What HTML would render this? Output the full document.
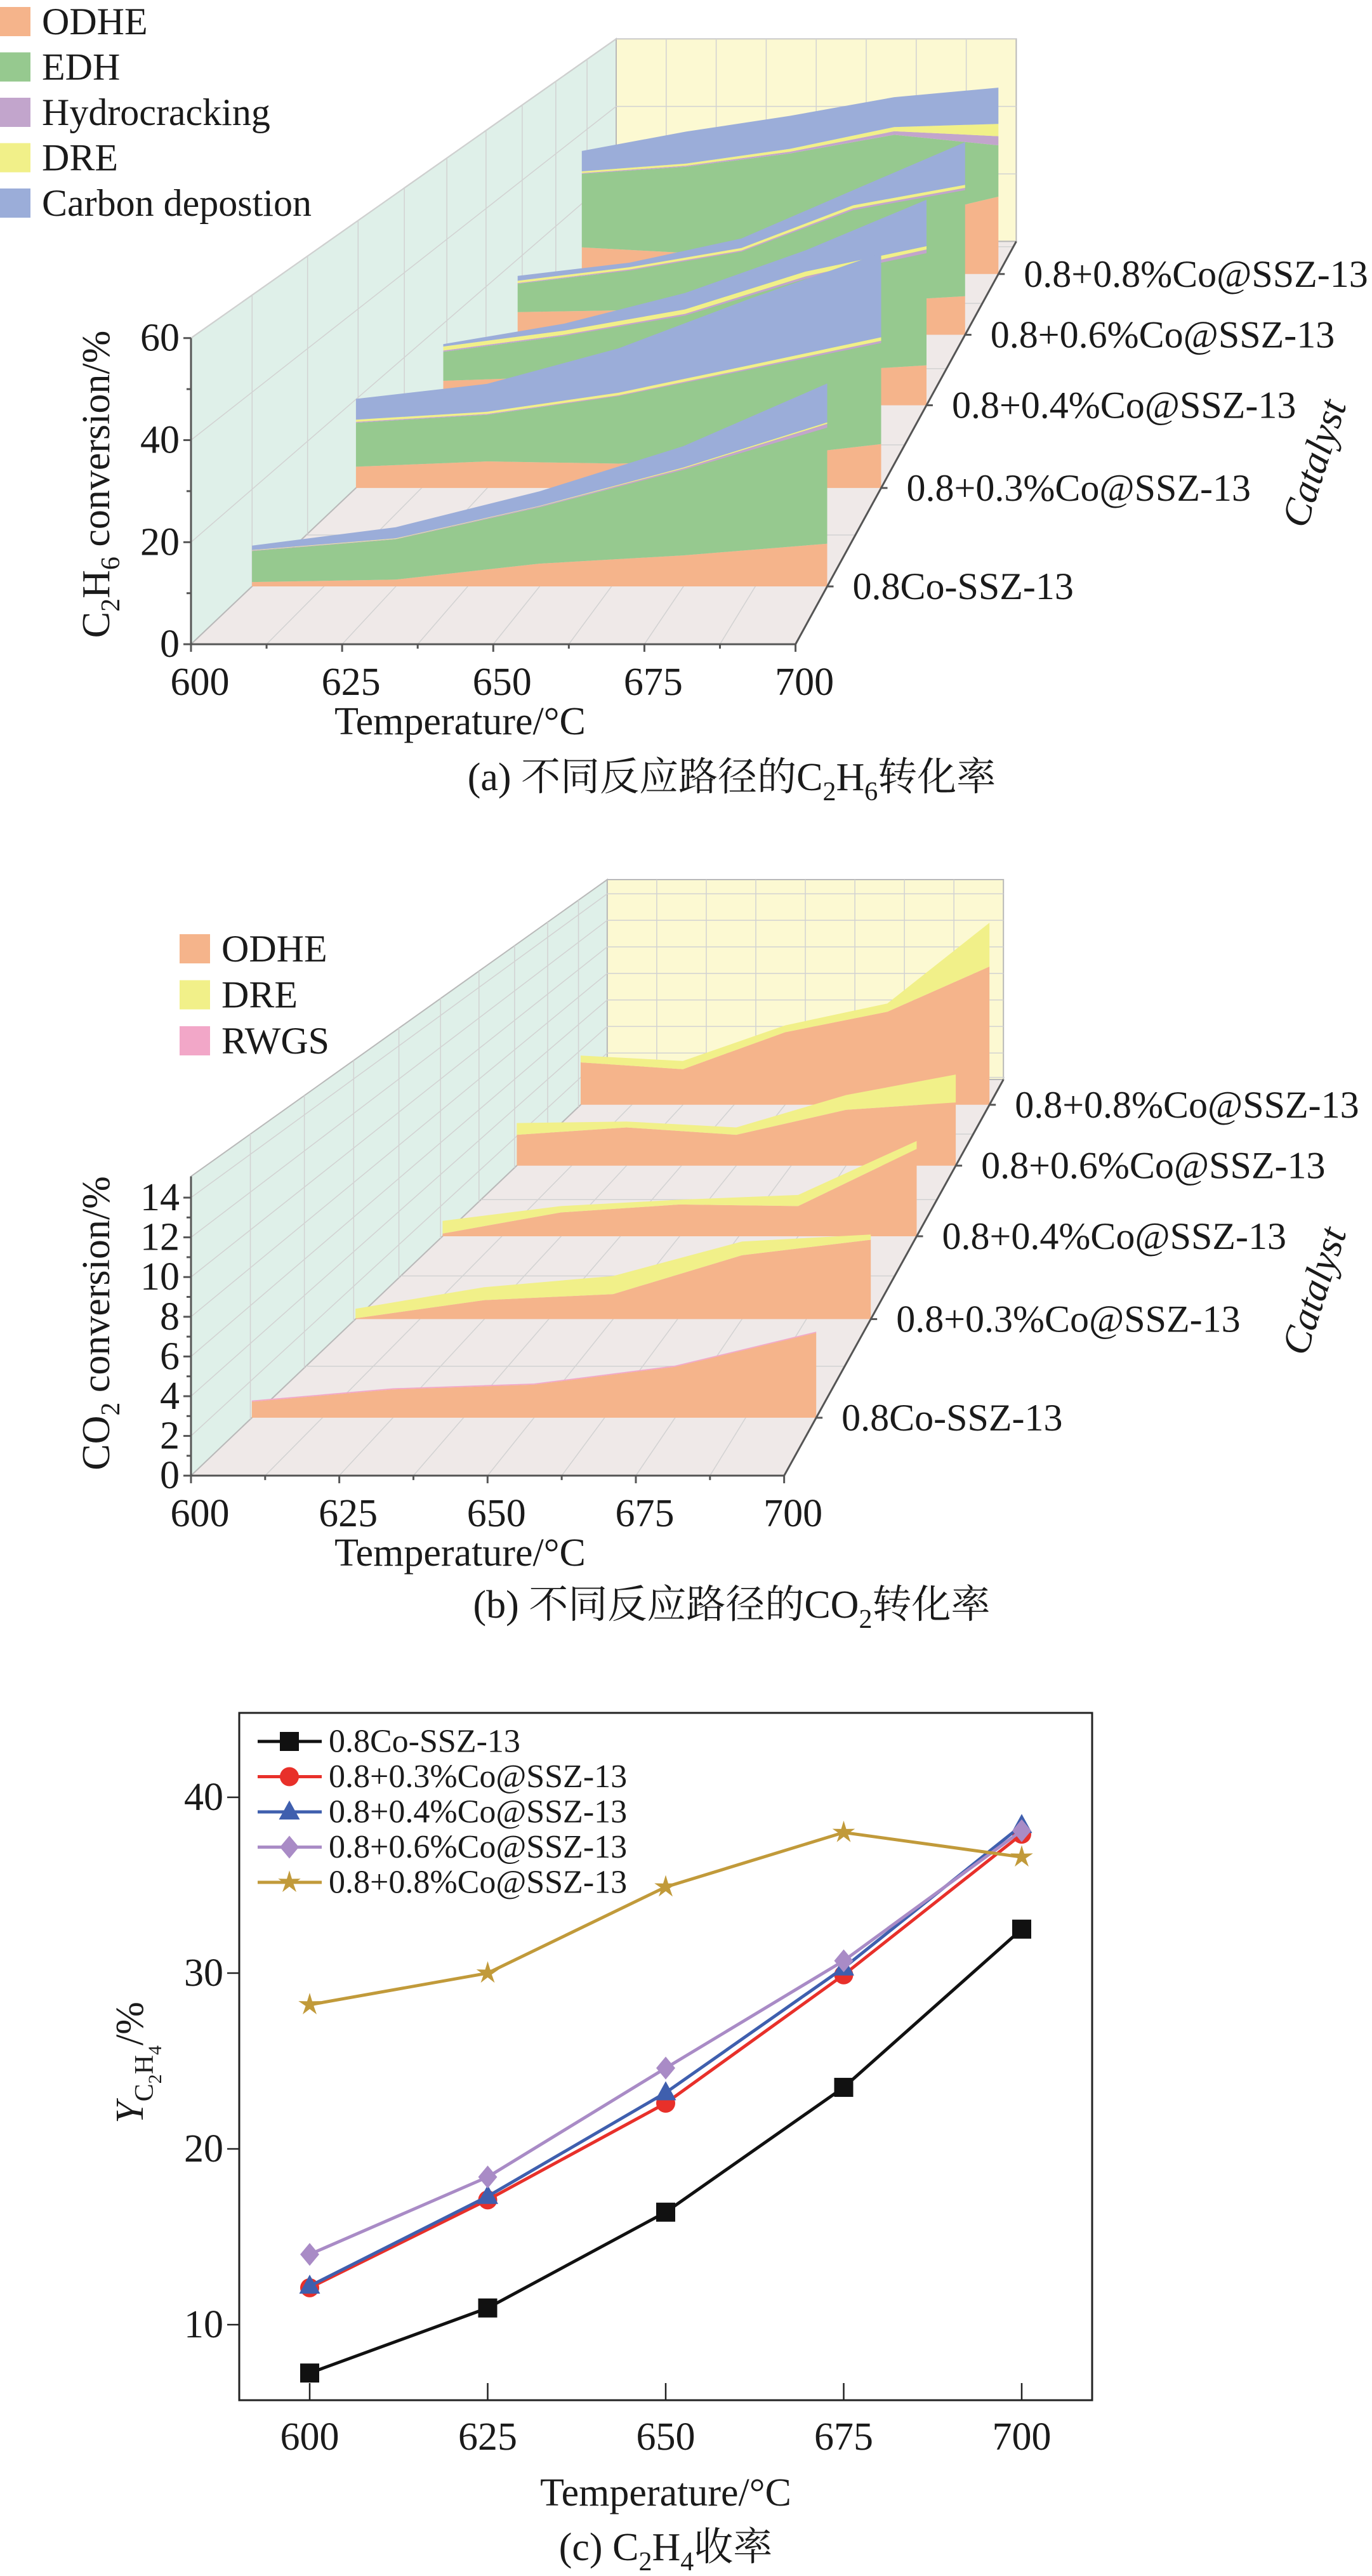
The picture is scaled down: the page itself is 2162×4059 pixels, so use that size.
<!DOCTYPE html>
<html><head><meta charset="utf-8"><style>
html,body{margin:0;padding:0;background:#fff}
svg{display:block}
text{font-family:"Liberation Serif","Noto Serif CJK SC","Noto Sans CJK SC",serif;fill:#1a1a1a}
</style></head><body>
<svg id="fig" xmlns="http://www.w3.org/2000/svg" width="2162" height="4059" viewBox="0 0 2162 4059">
<rect width="2162" height="4059" fill="#fff"/>
<g id="chartA"></g>
<g id="chartB"></g>
<g id="chartC"></g>
</svg>
<script>
const temps=[600,625,650,675,700];
const catalysts=["0.8Co-SSZ-13","0.8+0.3%Co@SSZ-13","0.8+0.4%Co@SSZ-13","0.8+0.6%Co@SSZ-13","0.8+0.8%Co@SSZ-13"];
// Chart A layer values (per catalyst, per temperature)
const aLayers=["ODHE","EDH","Hydrocracking","DRE","Carbon depostion"];
const aODHE=[[0.9,1.4,4.7,6.4,8.8],[4.8,6.0,5.5,6.5,9.9],[6,7,7,8,9.8],[6,6.5,7,8.5,10.2],[7.6,6,10,15,22]];
const aEDH=[[6.4,8.3,11.6,17.6,23.9],[9.9,10.5,15.2,20.2,22.8],[7.1,10,15,23,27.5],[7.5,10.5,15,24.5,28.1],[20.9,24.5,24.3,24.6,14.6]];
const aHydro=[[0.1,0.1,0.2,0.3,0.8],[0.2,0.2,0.2,0.3,0.5],[0.3,0.3,0.4,0.6,0.9],[0.2,0.3,0.3,0.5,0.6],[0.2,0.3,0.5,1.0,2.6]];
const aDRE=[[0.1,0.1,0.1,0.2,0.3],[0.5,0.5,0.6,0.7,0.8],[1.0,1.0,1.1,1.2,0.8],[0.6,0.6,0.7,0.8,0.8],[0.5,0.6,0.8,1.2,3.5]];
const aCarbon=[[0.9,2.3,3.0,4.4,8.0],[4.7,6.3,10.0,15.0,19.0],[0.6,1.7,4.0,5.2,11.4],[1.3,1.2,2.5,4.0,11.3],[5.8,9.1,9.4,8.5,10.3]];
const aTicks=[0,20,40,60];
// Chart B layer values
const bLayers=["ODHE","DRE","RWGS"];
const bODHE=[[0.85,1.5,1.75,2.7,4.5],[0.05,1.1,1.45,3.7,4.6],[0.17,1.5,2.0,1.9,5.5],[2.1,2.6,2.1,3.8,4.3],[3.1,2.6,5.3,6.8,10.1]];
const bDRE=[[0,0,0,0,0],[0.55,0.75,1.05,0.8,0.3],[0.8,0.4,0.3,0.7,0.5],[0.8,0.4,0.5,1.0,1.9],[0.5,0.6,0.5,0.6,3.2]];
const bRWGS=[[0.06,0.06,0.06,0.06,0.06],[0,0,0,0,0],[0,0,0,0,0],[0,0,0,0,0],[0,0,0,0,0]];
const bTicks=[0,2,4,6,8,10,12,14];
// Chart C yields
const cBlack=[7.25,10.95,16.4,23.5,32.5];
const cRed=[12.1,17.1,22.6,29.9,37.9];
const cBlue=[12.2,17.3,23.2,30.3,38.4];
const cPurple=[14.0,18.4,24.6,30.7,38.1];
const cGold=[28.2,30.0,34.9,38.0,36.6];
const cTicks=[10,20,30,40];

const NS="http://www.w3.org/2000/svg";
function mk(parent,tag,attrs,name,txt){
  const e=document.createElementNS(NS,tag);
  for(const k in attrs)e.setAttribute(k,attrs[k]);
  
  
  if(txt!==undefined)e.textContent=txt;
  parent.appendChild(e);return e;
}
function pts(a){return a.map(p=>p[0].toFixed(1)+','+p[1].toFixed(1)).join(' ');}
const COL={ODHE:"#f5b48b",EDH:"#96c98f",Hydrocracking:"#c2a5cc",DRE:"#f1f089",Carbon:"#9badd9",RWGS:"#f2a7c8"};

function chart3D(g,c,layerNames,layerData,ticks,colors,legend,title,caption){
  const P=(t,u,v)=>{const s=1/(1+u);const X0=c.x0+(t-600)/100*c.w;const Y0=c.base-v*c.unit;
    return[(c.vx+(X0-c.vx)*s)*1.3806,(c.vy+(Y0-c.vy)*s)/1.192+c.oy];};
  const U=i=>0.051+0.1*i;
  mk(g,'polygon',{points:pts([P(600,0,0),P(600,0,c.vmax),P(600,c.ub,c.vmax),P(600,c.ub,0)]),fill:"#dff0e9",stroke:"#b9b9b9","stroke-width":2},'left-wall');
  mk(g,'polygon',{points:pts([P(600,c.ub,0),P(600,c.ub,c.vmax),P(700,c.ub,c.vmax),P(700,c.ub,0)]),fill:"#fcf9d2",stroke:"#b9b9b9","stroke-width":2},'back-wall');
  mk(g,'polygon',{points:pts([P(600,0,0),P(700,0,0),P(700,c.ub,0),P(600,c.ub,0)]),fill:"#efe9e8",stroke:"#b9b9b9","stroke-width":2},'floor');
  const grid=mk(g,'g',{stroke:"#d2d2d2","stroke-width":1.5,fill:"none"},'grid-lines');
  for(let t=612.5;t<700;t+=12.5){mk(grid,'line',{x1:P(t,0,0)[0],y1:P(t,0,0)[1],x2:P(t,c.ub,0)[0],y2:P(t,c.ub,0)[1]},'floor-grid-line');
    mk(grid,'line',{x1:P(t,c.ub,0)[0],y1:P(t,c.ub,0)[1],x2:P(t,c.ub,c.vmax)[0],y2:P(t,c.ub,c.vmax)[1]},'back-grid-line');}
  for(let k=1;k<10;k++){const u=c.ub*k/10;mk(grid,'line',{x1:P(600,u,0)[0],y1:P(600,u,0)[1],x2:P(600,u,c.vmax)[0],y2:P(600,u,c.vmax)[1]},'left-grid-line');}
  for(let i=0;i<5;i++){const u=U(i)+0.05;mk(grid,'line',{x1:P(600,u,0)[0],y1:P(600,u,0)[1],x2:P(700,u,0)[0],y2:P(700,u,0)[1]},'floor-grid-line');}
  ticks.forEach(v=>{if(v>0){mk(grid,'line',{x1:P(600,0,v)[0],y1:P(600,0,v)[1],x2:P(600,c.ub,v)[0],y2:P(600,c.ub,v)[1]},'left-grid-line');
    mk(grid,'line',{x1:P(600,c.ub,v)[0],y1:P(600,c.ub,v)[1],x2:P(700,c.ub,v)[0],y2:P(700,c.ub,v)[1]},'back-grid-line');}});
  for(let i=4;i>=0;i--){
    const rg=mk(g,'g',{},'ribbon-'+(i+1));
    const cum=temps.map(()=>0);
    layerData.forEach((L,li)=>{
      const lo=cum.slice();const hi=cum.map((x,k)=>x+L[i][k]);
      const poly=temps.map((t,k)=>P(t,U(i),hi[k])).concat(temps.map((t,k)=>P(t,U(i),lo[k])).reverse());
      mk(rg,'polygon',{points:pts(poly),fill:colors[li]},'area-'+layerNames[li].toLowerCase().replace(/\s+/g,'-')+'-'+(i+1));
      hi.forEach((x,k)=>cum[k]=x);
    });
  }
  const ax=mk(g,'g',{stroke:"#555","stroke-width":3,fill:"none"},'axes');
  mk(ax,'line',{x1:P(600,0,0)[0],y1:P(600,0,0)[1],x2:P(600,0,c.vmax)[0],y2:P(600,0,c.vmax)[1]},'y-axis');
  mk(ax,'line',{x1:P(600,0,0)[0],y1:P(600,0,0)[1],x2:P(700,0,0)[0],y2:P(700,0,0)[1]},'x-axis');
  mk(ax,'line',{x1:P(700,0,0)[0],y1:P(700,0,0)[1],x2:P(700,c.ub,0)[0],y2:P(700,c.ub,0)[1]},'catalyst-axis');
  const mt=ticks[1]-ticks[0];
  for(let v=0;v<=ticks[ticks.length-1]+0.001;v+=mt/2){const p=P(600,0,v);const big=Math.abs((v/mt)%1)<0.01;
    mk(ax,'line',{x1:p[0],y1:p[1],x2:p[0]-(big?12:7),y2:p[1]},'y-tick');}
  ticks.forEach(v=>{const p=P(600,0,v);mk(g,'text',{x:p[0]-18,y:p[1],'font-size':62,'text-anchor':'end','dominant-baseline':'central'},'y-tick-label',String(v));});
  temps.forEach(t=>{const p=P(t,0,0);mk(ax,'line',{x1:p[0],y1:p[1],x2:p[0],y2:p[1]+12},'x-tick');
    mk(g,'text',{x:p[0]+14,y:p[1]+60,'font-size':62,'text-anchor':'middle','dominant-baseline':'central'},'x-tick-label',String(t));});
  for(let t=612.5;t<700;t+=25){const p=P(t,0,0);mk(ax,'line',{x1:p[0],y1:p[1],x2:p[0],y2:p[1]+7},'x-minor-tick');}
  catalysts.forEach((n,i)=>{const p=P(700,U(i),0);mk(ax,'line',{x1:p[0],y1:p[1],x2:p[0]+10,y2:p[1]},'catalyst-tick');
    mk(g,'text',{x:p[0]+40,y:p[1],'font-size':60,'dominant-baseline':'central'},'catalyst-label',n);});
  const f=P(600,0,0);
  mk(g,'text',{x:725,y:f[1]+122,'font-size':62,'text-anchor':'middle','dominant-baseline':'central'},'x-axis-title','Temperature/°C');
  mk(g,'text',{x:0,y:0,'font-size':62,'font-style':'italic','text-anchor':'middle','dominant-baseline':'central',transform:'translate(2071,'+c.catY+') rotate(-72)'},'catalyst-axis-title','Catalyst');
  const yt=mk(g,'text',{x:0,y:0,'font-size':62,'text-anchor':'middle','dominant-baseline':'central',transform:'translate(152,'+c.ytY+') rotate(-90)'},'y-axis-title');
  yt.innerHTML=title;
  const cp=mk(g,'text',{x:1153,y:c.capY,'font-size':62,'text-anchor':'middle','dominant-baseline':'central'},'caption');
  cp.innerHTML=caption;
  legend.forEach((l,k)=>{
    mk(g,'rect',{x:c.lx,y:c.ly+k*c.ld-23,width:48,height:46,fill:colors[k]},'legend-swatch-'+l.toLowerCase().replace(/\s+/g,'-'));
    mk(g,'text',{x:c.lx+66,y:c.ly+k*c.ld,'font-size':60,'dominant-baseline':'central'},'legend-label',l);
  });
}
chart3D(document.getElementById('chartA'),
  {vx:1653,vy:-1027,x0:218,w:690,base:1210,unit:575/60,vmax:60,ub:0.511,oy:0,catY:730,ytY:763,capY:1225,lx:0,ly:34,ld:71.5},
  aLayers,[aODHE,aEDH,aHydro,aDRE,aCarbon],aTicks,
  [COL.ODHE,COL.EDH,COL.Hydrocracking,COL.DRE,COL.Carbon],aLayers,
  'C<tspan baseline-shift="sub" font-size="42">2</tspan>H<tspan baseline-shift="sub" font-size="42">6</tspan> conversion/%',
  '(a) 不同反应路径的C<tspan baseline-shift="sub" font-size="42">2</tspan>H<tspan baseline-shift="sub" font-size="42">6</tspan>转化率');
chart3D(document.getElementById('chartB'),
  {vx:1649,vy:-1019,x0:218,w:677,base:1222,unit:37.3,vmax:15.07,ub:0.497,oy:1300,catY:2034,ytY:2085,capY:2529,lx:283,ly:1495,ld:72.5},
  bLayers,[bODHE,bDRE,bRWGS],bTicks,
  [COL.ODHE,COL.DRE,COL.RWGS],bLayers,
  'CO<tspan baseline-shift="sub" font-size="42">2</tspan> conversion/%',
  '(b) 不同反应路径的CO<tspan baseline-shift="sub" font-size="42">2</tspan>转化率');

(function(){
  const g=document.getElementById('chartC');
  const X=t=>488+(t-600)*11.22;
  const Y=v=>3663-(v-10)*27.7;
  mk(g,'rect',{x:377,y:2699,width:1344,height:1083,fill:"none",stroke:"#222","stroke-width":3},'plot-frame');
  cTicks.forEach(v=>{mk(g,'line',{x1:377,y1:Y(v),x2:358,y2:Y(v),stroke:"#222","stroke-width":2.5},'y-tick');
    mk(g,'text',{x:352,y:Y(v),'font-size':62,'text-anchor':'end','dominant-baseline':'central'},'y-tick-label',String(v));});
  temps.forEach(t=>{mk(g,'line',{x1:X(t),y1:3782,x2:X(t),y2:3755,stroke:"#222","stroke-width":2.5},'x-tick');
    mk(g,'text',{x:X(t),y:3840,'font-size':62,'text-anchor':'middle','dominant-baseline':'central'},'x-tick-label',String(t));});
  mk(g,'text',{x:1049,y:3928,'font-size':62,'text-anchor':'middle','dominant-baseline':'central'},'x-axis-title','Temperature/°C');
  const yt=mk(g,'text',{x:0,y:0,'font-size':62,'text-anchor':'middle','dominant-baseline':'central',transform:'translate(205,3250) rotate(-90)'},'y-axis-title');
  yt.innerHTML='<tspan font-style="italic">Y</tspan><tspan baseline-shift="sub" font-size="42">C<tspan baseline-shift="sub" font-size="30">2</tspan>H<tspan baseline-shift="sub" font-size="30">4</tspan></tspan>/%';
  const cp=mk(g,'text',{x:1049,y:4014,'font-size':62,'text-anchor':'middle','dominant-baseline':'central'},'caption');
  cp.innerHTML='(c) C<tspan baseline-shift="sub" font-size="42">2</tspan>H<tspan baseline-shift="sub" font-size="42">4</tspan>收率';
  const series=[[cBlack,"#111","square"],[cRed,"#e8302a","circle"],[cBlue,"#3f5fae","triangle"],[cPurple,"#a98bc6","diamond"],[cGold,"#c19a3a","star"]];
  function marker(par,shape,x,y,col,nm){
    const r=15;
    if(shape==="square")return mk(par,'rect',{x:x-r,y:y-r,width:2*r,height:2*r,fill:col},nm);
    if(shape==="circle")return mk(par,'circle',{cx:x,cy:y,r:r,fill:col},nm);
    if(shape==="triangle")return mk(par,'polygon',{points:pts([[x,y-r*1.2],[x+r*1.1,y+r*0.8],[x-r*1.1,y+r*0.8]]),fill:col},nm);
    if(shape==="diamond")return mk(par,'polygon',{points:pts([[x,y-r*1.2],[x+r,y],[x,y+r*1.2],[x-r,y]]),fill:col},nm);
    const a=[];for(let k=0;k<10;k++){const rr=k%2?r*0.45:r*1.25;const an=-Math.PI/2+k*Math.PI/5;a.push([x+rr*Math.cos(an),y+rr*Math.sin(an)]);}
    return mk(par,'polygon',{points:pts(a),fill:col},nm);
  }
  series.forEach((s,si)=>{
    const sg=mk(g,'g',{},'series-'+catalysts[si]);
    mk(sg,'polyline',{points:pts(s[0].map((v,k)=>[X(temps[k]),Y(v)])),fill:"none",stroke:s[1],"stroke-width":5},'line-'+(si+1));
    s[0].forEach((v,k)=>marker(sg,s[2],X(temps[k]),Y(v),s[1],'point-'+(si+1)+'-'+temps[k]));
    const ly=2744+si*55.5;
    mk(g,'line',{x1:406,y1:ly,x2:507,y2:ly,stroke:s[1],"stroke-width":5},'legend-line');
    marker(g,s[2],456,ly,s[1],'legend-marker');
    mk(g,'text',{x:518,y:ly,'font-size':52,'dominant-baseline':'central'},'legend-label',catalysts[si]);
  });
})();
</script>
</body></html>
